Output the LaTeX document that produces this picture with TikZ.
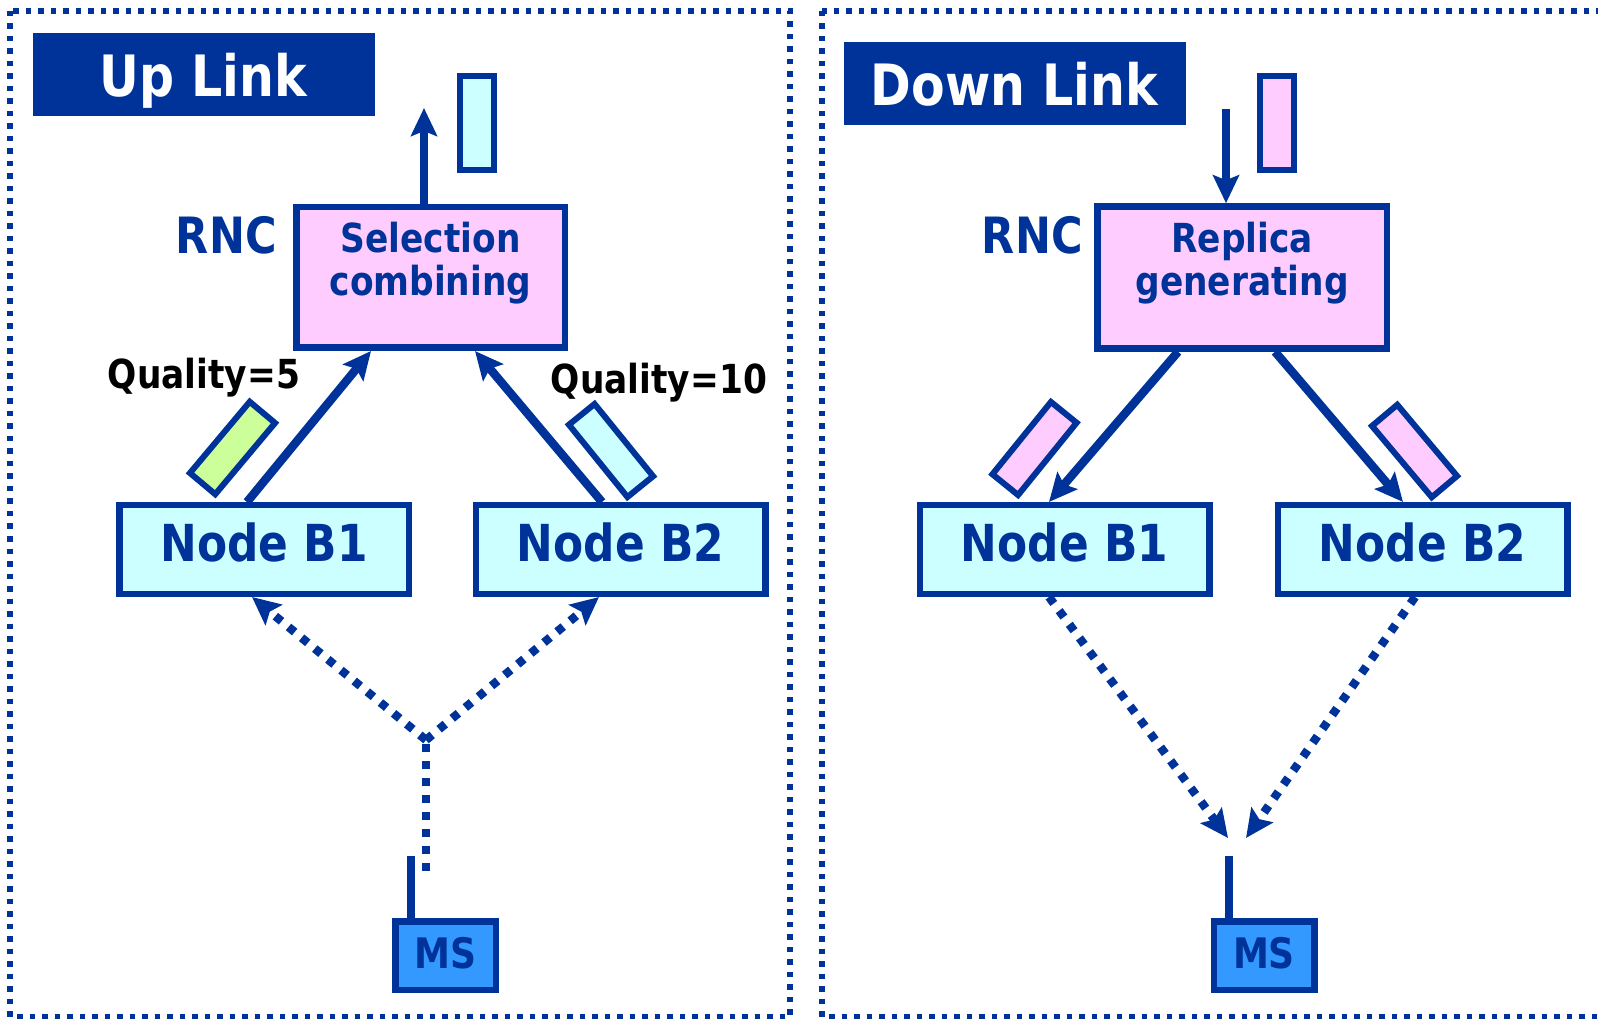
\documentclass[tikz,border=0pt]{standalone}
\usepackage{fontspec}
\setmainfont{DejaVu Sans}[FakeStretch=0.86]
\usetikzlibrary{arrows.meta,calc}
\definecolor{dblue}{HTML}{003399}
\definecolor{pinkf}{HTML}{FFCCFF}
\definecolor{cyanf}{HTML}{CCFFFF}
\definecolor{greenf}{HTML}{CCFF99}
\definecolor{msf}{HTML}{3399FF}
\begin{document}
\begin{tikzpicture}[x=0.5pt,y=-0.5pt,
  panel/.style={draw=dblue, line width=2.75pt, dash pattern=on 2.75pt off 3.5pt},
  title/.style={fill=dblue, text=white, inner sep=0pt, minimum width=171pt, minimum height=41.5pt,
    font=\bfseries\fontsize{28.5pt}{32pt}\selectfont, text height=24pt, text depth=1.5pt},
  box/.style={draw=dblue, line width=3.25pt, inner sep=0pt},
  nodeb/.style={box, fill=cyanf, minimum width=144.75pt, minimum height=44.25pt, text=dblue,
    font=\bfseries\fontsize{25.5pt}{30pt}\selectfont, text height=14pt, text depth=2.5pt},
  ms/.style={box, fill=msf, minimum width=50.25pt, minimum height=34.25pt, text=dblue,
    font=\bfseries\fontsize{21pt}{24pt}\selectfont, text height=14pt, text depth=1pt},
  pkt/.style={draw=dblue, line width=3pt, inner sep=0pt, minimum width=16.5pt, minimum height=46.5pt},
  lbl/.style={text=dblue, font=\bfseries\fontsize{25pt}{28pt}\selectfont, inner sep=0pt},
  rnct/.style={text=dblue, font=\bfseries\fontsize{20pt}{21.5pt}\selectfont, align=center, inner sep=0pt, anchor=north},
  qual/.style={text=black, font=\bfseries\fontsize{20pt}{24pt}\selectfont, anchor=base, inner sep=0pt},
  arr/.style={draw=dblue, line width=4.25pt, -{Stealth[length=14pt, width=13pt, inset=2.5pt]}},
  dotarr/.style={arr, dash pattern=on 4pt off 4.5pt},
  dotline/.style={draw=dblue, line width=4pt, dash pattern=on 4pt off 4.5pt},
  ant/.style={draw=dblue, line width=4.25pt}
]
\useasboundingbox (0,0) rectangle (1598,1020);
% panels
\draw[panel] (10,11) rectangle (790,1016.5);
\draw[panel] (822,11) rectangle (1625,1016.5);

% ---------------- Up Link ----------------
\node[title] (upt) at (203.5,74.5) {Up Link};
\node[pkt, fill=cyanf, minimum width=17pt, minimum height=47pt] (upk) at (477,123) {};
\node[box, fill=pinkf, minimum width=134.25pt, minimum height=70.25pt] (rncL) at (430.5,277.5) {};
\node[rnct] (selt) at ($(rncL.center)+(0,-55.5)$) {Selection\\combining};
\node[lbl, anchor=base east] (rncLl) at ($(rncL.west)+(-16,-23.5)$) {RNC};
\coordinate (upend) at (424,108);
\draw[arr] ($(rncL.north)+(-6.5,0)$) -- (upend);
\node[nodeb] (b1L) at (264,549.5) {Node B1};
\node[nodeb] (b2L) at (620.5,549.5) {Node B2};
\node[pkt, fill=greenf, rotate=-40] (gp) at (232.5,448) {};
\node[pkt, fill=cyanf, rotate=39] (cp) at (611,450.5) {};
\draw[arr] ($(b1L.north)+(-17,0)$) -- ($(rncL.south)+(-59.5,0)$);
\draw[arr] ($(b2L.north)+(-18.5,0)$) -- ($(rncL.south)+(44.5,0)$);
\node[qual] (q5) at (204,389) {Quality=5};
\node[qual] (q10) at (659,394) {Quality=10};
\coordinate (jn) at (426,740);
\coordinate (ant1) at (426,871);
\draw[dotline] (ant1) -- (jn);
\draw[dotarr] (jn) -- ($(b1L.south)+(-12,0)$);
\draw[dotarr] (jn) -- ($(b2L.south)+(-21.5,0)$);
\node[ms] (msL) at (445.5,955.5) {MS};
\coordinate (antL) at (411,856);
\draw[ant] ($(msL.north)+(-34.5,0)$) -- (antL);

% ---------------- Down Link ----------------
\node[title] (dnt) at (1014.5,83.5) {Down Link};
\node[pkt, fill=pinkf, minimum width=17pt, minimum height=47pt] (dnk) at (1277,123) {};
\node[box, fill=pinkf, minimum width=144.75pt, minimum height=71pt] (rncR) at (1242,277.5) {};
\node[rnct] (rept) at ($(rncR.center)+(0,-55.5)$) {Replica\\generating};
\node[lbl, anchor=base east] (rncRl) at ($(rncR.west)+(-11,-23.5)$) {RNC};
\coordinate (dnstart) at (1226,109);
\draw[arr] (dnstart) -- ($(rncR.north)+(-16,0)$);
\node[nodeb] (b1R) at (1064.5,549.5) {Node B1};
\node[nodeb] (b2R) at (1422.5,549.5) {Node B2};
\node[pkt, fill=pinkf, rotate=-39] (pp1) at (1034.5,448.5) {};
\node[pkt, fill=pinkf, rotate=40] (pp2) at (1414.5,451) {};
\draw[arr] ($(rncR.south)+(-64,0)$) -- ($(b1R.north)+(-15.5,0)$);
\draw[arr] ($(rncR.south)+(33,0)$) -- ($(b2R.north)+(-19.5,0)$);
\coordinate (rxL) at (1228,838);
\coordinate (rxR) at (1246,838);
\draw[dotarr] ($(b1R.south)+(-15.5,0)$) -- (rxL);
\draw[dotarr] ($(b2R.south)+(-7.5,0)$) -- (rxR);
\node[ms] (msR) at (1264,955.5) {MS};
\coordinate (antR) at (1229,856);
\draw[ant] ($(msR.north)+(-35,0)$) -- (antR);
\end{tikzpicture}
\end{document}
